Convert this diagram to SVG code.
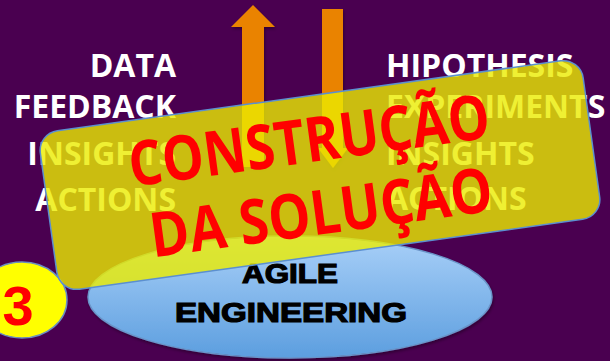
<svg xmlns="http://www.w3.org/2000/svg" width="610" height="361" viewBox="0 0 610 361">
  <defs>
    <linearGradient id="blueGrad" x1="0" y1="0" x2="0" y2="1">
      <stop offset="0" stop-color="#a9d0f8"/>
      <stop offset="1" stop-color="#5c9edf"/>
    </linearGradient>
    <filter id="shadow" x="-10%" y="-10%" width="120%" height="130%">
      <feDropShadow dx="1" dy="2" stdDeviation="1.5" flood-color="#000" flood-opacity="0.35"/>
    </filter>
    <style>
      .lbl { font-family: "Open Sans", "Noto Sans", sans-serif; font-weight: bold; font-size: 32px; fill: #ffffff; }
      .arrow { fill: #ea8306; }
      .eng { font-family: "Liberation Sans", Arial, sans-serif; font-weight: bold; font-size: 27px; fill: #000; stroke: #000; stroke-width: 1.2; text-anchor: middle; }
      .red { font-family: "Open Sans", "Noto Sans", sans-serif; font-weight: bold; font-size: 62px; fill: #ff0000; text-anchor: middle; }
    </style>
  </defs>

  <rect id="background" x="0" y="0" width="610" height="361" fill="#4a0050"/>

  <g id="connectors">
    <polygon id="arrow-up" class="arrow" filter="url(#shadow)" points="253,5 275,27 264,27 264,167 242,167 242,27 231,27"/>
    <polygon id="arrow-down" class="arrow" filter="url(#shadow)" points="322,9 343,9 343,148 348,148 333,168 318,148 322,148"/>
  </g>

  <g id="left-labels" class="lbl" text-anchor="end">
    <text x="176" y="77">DATA</text>
    <text x="176" y="118">FEEDBACK</text>
    <text x="176" y="165">INSIGHTS</text>
    <text x="176" y="211">ACTIONS</text>
  </g>

  <g id="right-labels" class="lbl" text-anchor="start">
    <text x="386" y="77">HIPOTHESIS</text>
    <text x="386" y="118">EXPERIMENTS</text>
    <text x="386" y="165">INSIGHTS</text>
    <text x="386" y="210">ACTIONS</text>
  </g>

  <g id="agile-engineering">
    <ellipse cx="290" cy="297" rx="202" ry="61" fill="url(#blueGrad)" stroke="#6a94c8" stroke-width="1.5" filter="url(#shadow)"/>
    <text class="eng" x="290" y="283" textLength="96" lengthAdjust="spacingAndGlyphs">AGILE</text>
    <text class="eng" x="291" y="322" textLength="232" lengthAdjust="spacingAndGlyphs">ENGINEERING</text>
  </g>

  <g id="step-3">
    <ellipse cx="22" cy="300" rx="45" ry="38" fill="#ffff00" stroke="#6a8fc0" stroke-width="1.5"/>
    <text x="18" y="325" font-family="Liberation Sans, Arial, sans-serif" font-weight="bold" font-size="56" fill="#ff0000" text-anchor="middle">3</text>
  </g>

  <g id="banner">
    <rect x="46" y="95" width="548" height="160" rx="20" ry="20" transform="rotate(-7.9 320 175)" fill="#ebec00" fill-opacity="0.8" stroke="#5b8fd0" stroke-width="1.5"/>
    <text class="red" x="312" y="162" transform="rotate(-7.8 312 162)" textLength="364" lengthAdjust="spacingAndGlyphs">CONSTRUÇÃO</text>
    <text class="red" x="324" y="234" transform="rotate(-7.8 324 234)" textLength="345" lengthAdjust="spacingAndGlyphs">DA SOLUÇÃO</text>
  </g>
</svg>
